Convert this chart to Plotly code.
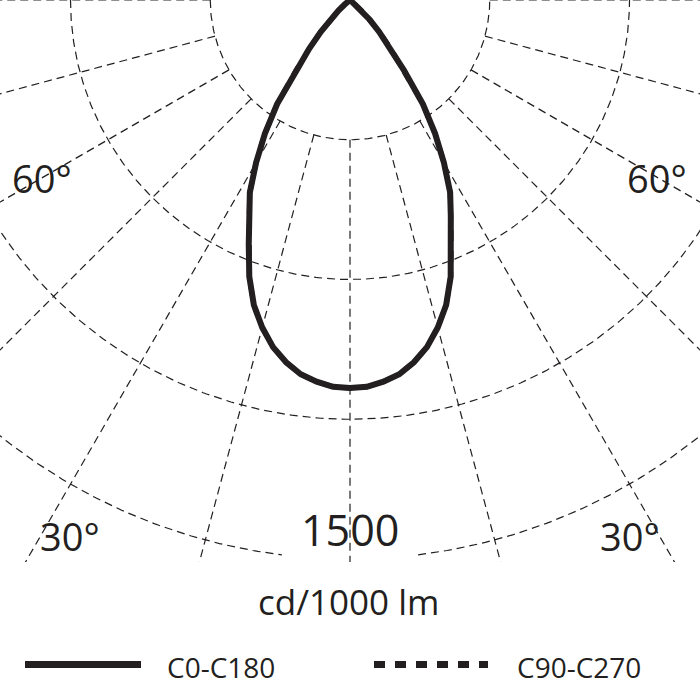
import numpy as np
import plotly.graph_objects as go

# ---------------- data ----------------
gamma_deg = [0, 2.5, 5, 7.5, 10, 12.5, 15, 17.5, 20, 22.5, 25, 27.5, 30, 32.5, 35,
             37.5, 40, 42.5, 45, 47.5, 50, 52.5, 55, 57.5, 60, 65, 70, 75, 80, 85, 90]
I_C0 = [1041, 1039, 1028, 1013, 987, 954, 910, 858, 790, 710, 640, 582, 504, 425, 341,
        238, 170, 116, 75, 42, 18, 6, 2, 0, 0, 0, 0, 0, 0, 0, 0]
I_C180 = I_C0[:]          # symmetric distribution
I_C90 = I_C0[:]           # hidden beneath the C0-C180 curve
I_C270 = I_C0[:]

ring_values = [375, 750, 1125, 1500]
ring_label = "1500"
spoke_angles = [-90, -75, -60, -45, -30, -15, 0, 15, 30, 45, 60, 75, 90]
angle_labels = ["30°", "60°"]
unit_label = "cd/1000 lm"
series_names = ["C0-C180", "C90-C270"]

# ---------------- geometry / style ----------------
W, H = 700, 700
PLOT_H = 562
SCALE = 139.75 / 375.0          # px per cd
INK = "#231f20"
FONT = "Open Sans"
GRID_DASH = "8px,5px"
LABEL_GAP_DEG = 7


def to_xy(angles_deg, values):
    a = np.radians(np.asarray(angles_deg, dtype=float))
    v = np.asarray(values, dtype=float)
    return v * np.sin(a), -v * np.cos(a)


def half_pair(vals_pos, vals_neg):
    ang = [-g for g in gamma_deg[::-1]] + gamma_deg[1:]
    vals = vals_neg[::-1] + vals_pos[1:]
    return to_xy(ang, vals)


def paper(px, py):
    return px / W, (PLOT_H - py) / PLOT_H


fig = go.Figure()

# rings
for rv in ring_values:
    th = np.arange(-90, 90.01, 0.5)
    vals = np.full(th.shape, float(rv))
    x, y = to_xy(th, vals)
    x = x.astype(object)
    y = y.astype(object)
    if str(rv) == ring_label:
        mask = np.abs(th) < LABEL_GAP_DEG
        x[mask] = None
        y[mask] = None
    fig.add_trace(go.Scatter(x=list(x), y=list(y), mode="lines", hoverinfo="skip",
                             line=dict(color=INK, width=1.2, dash=GRID_DASH),
                             showlegend=False, connectgaps=False))

# spokes (start at the first ring)
r_out = 4000
for a in spoke_angles:
    x, y = to_xy([a, a], [ring_values[0], r_out])
    fig.add_trace(go.Scatter(x=x, y=y, mode="lines", hoverinfo="skip",
                             line=dict(color=INK, width=1.2, dash=GRID_DASH),
                             showlegend=False))

# C90-C270 (dashed, coincident)
x, y = half_pair(I_C90, I_C270)
fig.add_trace(go.Scatter(x=x, y=y, mode="lines", name=series_names[1],
                         line=dict(color=INK, width=5, dash="11px,10px"),
                         showlegend=False))
# C0-C180 (solid)
x, y = half_pair(I_C0, I_C180)
fig.add_trace(go.Scatter(x=x, y=y, mode="lines", name=series_names[0],
                         line=dict(color=INK, width=6),
                         showlegend=False))

annotations = []


def add_text(txt, px, py, size, xanchor="center"):
    xp, yp = paper(px, py)
    annotations.append(dict(text=txt, x=xp, y=yp, xref="paper", yref="paper",
                            xanchor=xanchor, yanchor="middle", showarrow=False,
                            font=dict(family=FONT, size=size, color=INK)))


add_text(angle_labels[1], 42, 178, 38)
add_text(angle_labels[1], 657, 178, 38)
add_text(angle_labels[0], 70, 536, 38)
add_text(angle_labels[0], 630, 536, 38)
add_text(ring_label, 350, 529, 43)
add_text(unit_label, 348, 601, 35)
add_text(series_names[0], 165, 667, 28, xanchor="left")
add_text(series_names[1], 515, 667, 28, xanchor="left")

shapes = []
for (x0, x1, dash) in [(25, 141, "solid"), (374, 488, "11px,10px")]:
    px0, py0 = paper(x0, 664.5)
    px1, _ = paper(x1, 664.5)
    shapes.append(dict(type="line", xref="paper", yref="paper", x0=px0, x1=px1,
                       y0=py0, y1=py0, line=dict(color=INK, width=7, dash=dash)))

fig.update_layout(
    width=W, height=H,
    margin=dict(l=0, r=0, t=0, b=H - PLOT_H, pad=0),
    paper_bgcolor="white", plot_bgcolor="white",
    xaxis=dict(range=[-350 / SCALE, 350 / SCALE], visible=False, fixedrange=True),
    yaxis=dict(range=[-PLOT_H / SCALE, 0], visible=False, fixedrange=True),
    annotations=annotations, shapes=shapes, showlegend=False,
)

fig.write_html("out.html", config={"displayModeBar": False},
               post_script="document.body.style.margin='0';document.body.style.overflow='hidden';")
